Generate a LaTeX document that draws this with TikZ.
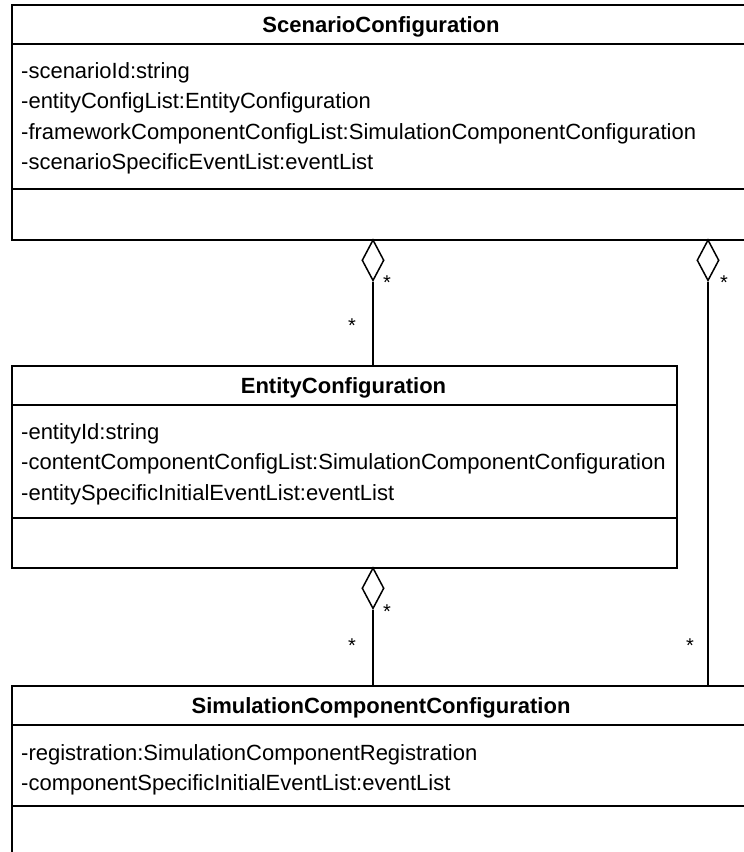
\documentclass[tikz,border=0pt]{standalone}
\usepackage{fontspec}
\setmainfont{Liberation Sans}
\usetikzlibrary{shapes.geometric}
\begin{document}
\begin{tikzpicture}[x=1pt,y=-1pt,
  cls/.style={draw=black, line width=1.5pt, rectangle, inner sep=0pt, anchor=north west},
  sep/.style={draw=black, line width=1.5pt},
  attr/.style={anchor=base west, inner sep=0pt, font=\fontsize{22}{22}\selectfont},
  ttl/.style={anchor=base, inner sep=0pt, font=\fontsize{22}{22}\selectfont\bfseries},
  agg/.style={diamond, draw=black, line width=1.5pt, fill=white, minimum width=22pt, minimum height=41pt, inner sep=0pt, anchor=north},
  mult/.style={anchor=base, inner sep=0pt, font=\fontsize{20}{20}\selectfont},
  link/.style={draw=black, line width=1.5pt}]
\clip (0,0) rectangle (744,852);
\useasboundingbox (0,0) rectangle (744,852);
\fill[white] (0,0) rectangle (744,852);

% ScenarioConfiguration
\node[cls, minimum width=740pt, minimum height=235pt] (scen) at (11,4) {};
\draw[sep] (11,44) -- (751,44);
\draw[sep] (11,189) -- (751,189);
\node[ttl] (scent) at (381,32) {ScenarioConfiguration};
\node[attr] (sa1) at (21,78) {-scenarioId:string};
\node[attr] (sa2) at (21,108.5) {-entityConfigList:EntityConfiguration};
\node[attr] (sa3) at (21,139) {-frameworkComponentConfigList:SimulationComponentConfiguration};
\node[attr] (sa4) at (21,169.5) {-scenarioSpecificEventList:eventList};

% EntityConfiguration
\node[cls, minimum width=665pt, minimum height=202pt] (ent) at (11,365) {};
\draw[sep] (11,405) -- (676,405);
\draw[sep] (11,518) -- (676,518);
\node[ttl] (entt) at (343.5,393) {EntityConfiguration};
\node[attr] (ea1) at (21,439) {-entityId:string};
\node[attr] (ea2) at (21,469.5) {-contentComponentConfigList:SimulationComponentConfiguration};
\node[attr] (ea3) at (21,500) {-entitySpecificInitialEventList:eventList};

% SimulationComponentConfiguration
\node[cls, minimum width=740pt, minimum height=215pt] (sim) at (11,685) {};
\draw[sep] (11,725) -- (751,725);
\draw[sep] (11,806) -- (751,806);
\node[ttl] (simt) at (381,713) {SimulationComponentConfiguration};
\node[attr] (ma1) at (21,760) {-registration:SimulationComponentRegistration};
\node[attr] (ma2) at (21,790.5) {-componentSpecificInitialEventList:eventList};

% aggregations
\node[agg] (d1) at (373,239) {};
\node[agg] (d2) at (708,239) {};
\node[agg] (d3) at (373,567) {};
\draw[link] (d1.south) -- (d1.south |- ent.north);
\draw[link] (d2.south) -- (d2.south |- sim.north);
\draw[link] (d3.south) -- (d3.south |- sim.north);

% multiplicities
\node[mult] (m1) at (387,289.5) {*};
\node[mult] (m2) at (724,289.5) {*};
\node[mult] (m3) at (352,332.5) {*};
\node[mult] (m4) at (387,618.5) {*};
\node[mult] (m5) at (352,652.5) {*};
\node[mult] (m6) at (690,652.5) {*};
\end{tikzpicture}
\end{document}
